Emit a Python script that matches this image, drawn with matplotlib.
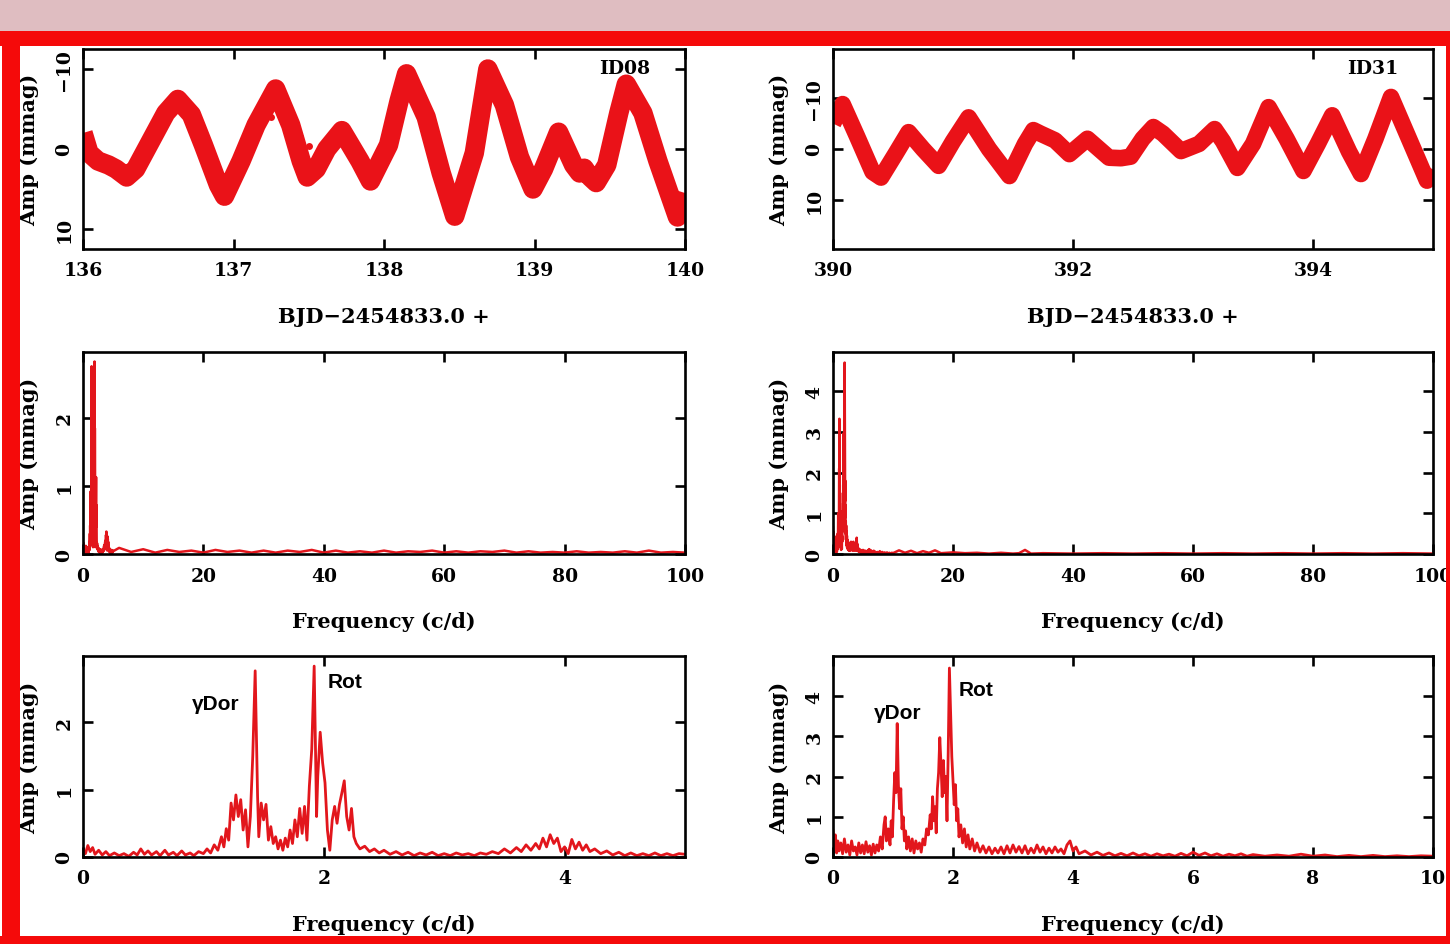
import matplotlib
matplotlib.use("Agg")
import matplotlib.pyplot as plt
from matplotlib.patches import Rectangle
import numpy as np

# ---------------- data ----------------
# Light curve ID08 (BJD-2454833.0 +, mmag)
lc08_t = [136.00, 136.04, 136.10, 136.17, 136.22, 136.29, 136.35, 136.45, 136.55, 136.63,
          136.72, 136.80, 136.90, 136.94, 137.05, 137.15, 137.28, 137.38, 137.45, 137.49,
          137.55, 137.62, 137.72, 137.84, 137.91, 138.03, 138.10, 138.15, 138.28, 138.38,
          138.47, 138.60, 138.69, 138.80, 138.90, 138.99, 139.06, 139.16, 139.26, 139.30,
          139.33, 139.37, 139.41, 139.48, 139.56, 139.61, 139.72, 139.82, 139.95, 140.00]
lc08_m = [-2.0, 0.5, 1.5, 2.0, 2.5, 3.5, 2.5, -1.0, -4.5, -6.2,
          -4.3, -0.5, 4.5, 5.9, 1.5, -3.0, -7.5, -3.0, 1.5, 3.5,
          2.5, 0.0, -2.3, 1.5, 4.0, -0.5, -6.0, -9.4, -4.0, 3.0,
          8.4, 0.5, -10.0, -5.5, 1.0, 5.0, 2.5, -2.1, 2.0, 3.0,
          2.4, 3.5, 4.2, 2.0, -4.5, -8.1, -4.5, 1.5, 8.5, 5.5]
lc08_out_t = [137.25, 137.44, 137.50]
lc08_out_m = [-4.0, -1.5, -0.4]

# Light curve ID31
lc31_t = [390.00, 390.08, 390.20, 390.33, 390.40, 390.52, 390.63, 390.75, 390.88, 391.00,
          391.13, 391.30, 391.47, 391.60, 391.67, 391.73, 391.85, 391.97, 392.12, 392.30,
          392.40, 392.48, 392.58, 392.67, 392.75, 392.90, 393.05, 393.18, 393.25, 393.37,
          393.50, 393.63, 393.78, 393.92, 394.04, 394.16, 394.30, 394.40, 394.52, 394.65,
          394.80, 394.95, 395.00]
lc31_m = [-5.0, -8.8, -2.5, 4.5, 5.6, 1.0, -3.3, 0.0, 3.3, -1.5,
          -6.2, 0.0, 5.3, -1.0, -3.7, -3.0, -1.7, 1.0, -2.0, 1.7,
          1.8, 1.5, -2.0, -4.3, -3.0, 0.4, -1.0, -3.9, -1.5, 3.7,
          -1.0, -8.2, -2.0, 4.3, -1.0, -6.6, 0.5, 4.9, -2.0, -10.2,
          -2.0, 6.2, 4.0]

# Amplitude spectrum ID08, 0-5 c/d
sp08_f = [0.00, 0.02, 0.04, 0.06, 0.08, 0.10, 0.13, 0.16, 0.19, 0.22, 0.26, 0.30, 0.34, 0.38,
          0.42, 0.45, 0.48, 0.51, 0.54, 0.57, 0.61, 0.64, 0.68, 0.71, 0.75, 0.78, 0.82, 0.85,
          0.89, 0.92, 0.96, 1.00, 1.03, 1.06, 1.09, 1.12, 1.15, 1.17, 1.19, 1.21, 1.23, 1.25,
          1.27, 1.29, 1.31, 1.33, 1.35, 1.37, 1.39, 1.41, 1.43, 1.45, 1.46, 1.48, 1.50, 1.52,
          1.54, 1.56, 1.58, 1.60, 1.62, 1.64, 1.66, 1.68, 1.70, 1.72, 1.74, 1.76, 1.78, 1.80,
          1.82, 1.84, 1.86, 1.88, 1.90, 1.92, 1.94, 1.95, 1.97, 1.99, 2.01, 2.03, 2.05, 2.07,
          2.09, 2.11, 2.13, 2.15, 2.17, 2.19, 2.21, 2.23, 2.25, 2.27, 2.30, 2.34, 2.38, 2.42,
          2.46, 2.50, 2.55, 2.60, 2.65, 2.70, 2.75, 2.80, 2.85, 2.90, 2.95, 3.00, 3.05, 3.10,
          3.15, 3.20, 3.25, 3.30, 3.35, 3.40, 3.45, 3.50, 3.55, 3.60, 3.64, 3.68, 3.72, 3.76,
          3.79, 3.82, 3.85, 3.88, 3.91, 3.94, 3.97, 4.00, 4.03, 4.06, 4.09, 4.12, 4.15, 4.18,
          4.21, 4.25, 4.30, 4.35, 4.40, 4.45, 4.50, 4.55, 4.60, 4.65, 4.70, 4.75, 4.80, 4.85,
          4.90, 4.95, 5.00]
sp08_a = [0.12, 0.05, 0.17, 0.08, 0.14, 0.04, 0.10, 0.03, 0.08, 0.02, 0.06, 0.02, 0.05, 0.01,
          0.07, 0.03, 0.12, 0.04, 0.09, 0.03, 0.08, 0.02, 0.10, 0.03, 0.07, 0.02, 0.09, 0.03,
          0.06, 0.02, 0.08, 0.05, 0.12, 0.06, 0.18, 0.10, 0.30, 0.15, 0.42, 0.25, 0.80, 0.55,
          0.92, 0.60, 0.85, 0.40, 0.70, 0.15, 0.60, 1.50, 2.76, 0.90, 0.30, 0.80, 0.55, 0.78,
          0.25, 0.45, 0.20, 0.30, 0.12, 0.25, 0.10, 0.28, 0.15, 0.40, 0.20, 0.55, 0.30, 0.72,
          0.35, 0.75, 0.25, 1.05, 1.60, 2.83, 0.60, 1.20, 1.85, 1.40, 1.10, 0.40, 0.10, 0.55,
          0.75, 0.50, 0.78, 0.95, 1.13, 0.60, 0.40, 0.72, 0.30, 0.20, 0.12, 0.16, 0.08, 0.12,
          0.06, 0.10, 0.04, 0.08, 0.03, 0.07, 0.02, 0.06, 0.03, 0.07, 0.02, 0.05, 0.02, 0.06,
          0.03, 0.05, 0.02, 0.06, 0.04, 0.08, 0.05, 0.12, 0.06, 0.14, 0.08, 0.18, 0.10, 0.20,
          0.12, 0.28, 0.15, 0.33, 0.20, 0.28, 0.08, 0.15, 0.05, 0.26, 0.12, 0.22, 0.10, 0.18,
          0.08, 0.12, 0.05, 0.09, 0.03, 0.07, 0.02, 0.06, 0.02, 0.05, 0.02, 0.06, 0.02, 0.05,
          0.02, 0.05, 0.04]
# ID08 spectrum tail, 6-100 c/d
tail08_f = [6, 8, 10, 12, 14, 16, 18, 20, 22, 24, 26, 28, 30, 32, 34, 36, 38, 40, 42, 44,
            46, 48, 50, 52, 54, 56, 58, 60, 62, 64, 66, 68, 70, 72, 74, 76, 78, 80, 82, 84,
            86, 88, 90, 92, 94, 96, 98, 100]
tail08_a = [0.09, 0.03, 0.07, 0.02, 0.06, 0.03, 0.05, 0.02, 0.06, 0.03, 0.05, 0.02, 0.05, 0.02,
            0.05, 0.03, 0.06, 0.02, 0.05, 0.02, 0.04, 0.02, 0.05, 0.02, 0.04, 0.03, 0.05, 0.02,
            0.04, 0.02, 0.04, 0.03, 0.05, 0.02, 0.04, 0.02, 0.03, 0.02, 0.04, 0.02, 0.03, 0.02,
            0.04, 0.02, 0.05, 0.02, 0.03, 0.02]

# Amplitude spectrum ID31, 0-10 c/d
sp31_f = [0.00, 0.02, 0.04, 0.06, 0.08, 0.10, 0.13, 0.16, 0.19, 0.22, 0.25, 0.28, 0.31, 0.34,
          0.37, 0.40, 0.43, 0.46, 0.49, 0.52, 0.55, 0.58, 0.61, 0.64, 0.67, 0.70, 0.73, 0.76,
          0.79, 0.82, 0.85, 0.87, 0.89, 0.92, 0.95, 0.97, 0.99, 1.01, 1.03, 1.05, 1.07, 1.09,
          1.11, 1.13, 1.15, 1.17, 1.19, 1.21, 1.23, 1.26, 1.29, 1.32, 1.35, 1.38, 1.41, 1.44,
          1.47, 1.50, 1.53, 1.56, 1.59, 1.62, 1.64, 1.66, 1.68, 1.70, 1.72, 1.74, 1.76, 1.78,
          1.80, 1.82, 1.84, 1.86, 1.88, 1.90, 1.92, 1.94, 1.96, 1.98, 2.00, 2.02, 2.04, 2.06,
          2.08, 2.10, 2.13, 2.16, 2.19, 2.22, 2.25, 2.28, 2.32, 2.36, 2.40, 2.45, 2.50, 2.55,
          2.60, 2.65, 2.70, 2.75, 2.80, 2.85, 2.90, 2.95, 3.00, 3.05, 3.10, 3.15, 3.20, 3.25,
          3.30, 3.35, 3.40, 3.45, 3.50, 3.55, 3.60, 3.65, 3.70, 3.75, 3.80, 3.85, 3.90, 3.95,
          4.00, 4.05, 4.10, 4.2, 4.3, 4.4, 4.5, 4.6, 4.7, 4.8, 4.9, 5.0, 5.1, 5.2, 5.3, 5.4,
          5.5, 5.6, 5.7, 5.8, 5.9, 6.0, 6.1, 6.2, 6.3, 6.4, 6.5, 6.6, 6.7, 6.8, 6.9, 7.0,
          7.2, 7.4, 7.6, 7.8, 8.0, 8.2, 8.4, 8.6, 8.8, 9.0, 9.2, 9.4, 9.6, 9.8, 10.0]
sp31_a = [0.65, 0.20, 0.55, 0.10, 0.40, 0.15, 0.35, 0.08, 0.45, 0.12, 0.30, 0.05, 0.40, 0.15,
          0.25, 0.05, 0.35, 0.10, 0.30, 0.08, 0.38, 0.12, 0.28, 0.05, 0.32, 0.10, 0.30, 0.15,
          0.50, 0.20, 0.80, 1.00, 0.40, 0.70, 0.30, 0.90, 0.50, 1.40, 2.10, 1.60, 3.32, 1.80,
          1.20, 1.70, 0.70, 1.00, 0.40, 0.65, 0.20, 0.50, 0.15, 0.45, 0.10, 0.40, 0.20, 0.35,
          0.12, 0.45, 0.30, 0.70, 0.55, 1.05, 0.70, 1.50, 0.90, 1.25, 0.60, 1.70, 2.10, 2.97,
          2.30, 1.50, 2.40, 1.60, 2.00, 0.90, 2.60, 4.70, 3.60, 2.50, 1.90, 1.30, 1.80, 0.90,
          1.20, 0.50, 0.80, 0.35, 0.70, 0.25, 0.55, 0.20, 0.45, 0.15, 0.35, 0.12, 0.28, 0.10,
          0.25, 0.08, 0.22, 0.10, 0.25, 0.08, 0.28, 0.10, 0.30, 0.12, 0.26, 0.10, 0.28, 0.08,
          0.22, 0.10, 0.30, 0.12, 0.25, 0.08, 0.22, 0.10, 0.25, 0.12, 0.20, 0.08, 0.30, 0.40,
          0.15, 0.25, 0.08, 0.15, 0.05, 0.12, 0.04, 0.10, 0.03, 0.09, 0.03, 0.10, 0.03, 0.08,
          0.02, 0.08, 0.03, 0.07, 0.02, 0.09, 0.03, 0.12, 0.04, 0.10, 0.03, 0.08, 0.02, 0.07,
          0.03, 0.08, 0.02, 0.06, 0.02, 0.05, 0.02, 0.07, 0.02, 0.05, 0.01, 0.04, 0.01, 0.04,
          0.01, 0.03, 0.01, 0.03, 0.02]
# ID31 spectrum tail, 11-100 c/d
tail31_f = [11, 12, 13, 14, 15, 16, 17, 18, 20, 22, 24, 26, 28, 30, 31, 32, 33, 35, 40, 45,
            50, 55, 60, 65, 70, 75, 80, 85, 90, 95, 100]
tail31_a = [0.09, 0.03, 0.08, 0.02, 0.07, 0.03, 0.09, 0.02, 0.04, 0.02, 0.03, 0.01, 0.03, 0.01,
            0.02, 0.10, 0.01, 0.02, 0.01, 0.02, 0.01, 0.02, 0.01, 0.02, 0.01, 0.02, 0.01, 0.02,
            0.01, 0.02, 0.01]

star_ids = ["ID08", "ID31"]
xlabel_time = "BJD\u22122454833.0 +"
xlabel_freq = "Frequency (c/d)"
ylabel_amp = "Amp (mmag)"
peak_labels = ["\u03b3Dor", "Rot"]
peak_pos08 = [(1.10, 2.27), (2.18, 2.60)]
peak_pos31 = [(1.08, 3.60), (2.38, 4.17)]

# ---------------- figure ----------------
W, H = 1450, 945
plt.rcParams["font.family"] = ["DejaVu Serif"]
plt.rcParams["font.weight"] = "bold"
plt.rcParams["axes.labelweight"] = "bold"
fig = plt.figure(figsize=(W / 100, H / 100), dpi=100)
fig.patch.set_facecolor("white")

RED = "#ea1218"
SPEC = "#e2161c"
LABEL_FS = 15


def px_axes(x0, y0, x1, y1):
    return fig.add_axes([x0 / W, 1 - y1 / H, (x1 - x0) / W, (y1 - y0) / H])


def style(ax, wpx, hpx):
    for s in ax.spines.values():
        s.set_linewidth(1.9)
        s.set_zorder(5)
    ax.tick_params(direction="in", length=7.5, width=1.9, top=True, right=True,
                   labelsize=13.5, pad=7)
    ax.tick_params(axis="x", pad=9)
    ax.tick_params(axis="y", labelrotation=90)
    for lab in ax.get_yticklabels():
        lab.set_va("center")
    ax.xaxis.set_label_coords(0.5, -67 / hpx)
    ax.yaxis.set_label_coords(-54 / wpx, 0.5)


axes = {}
axes["lc08"] = px_axes(83, 50, 685, 250)
axes["lc31"] = px_axes(833, 50, 1433, 250)
axes["sp08"] = px_axes(83, 353, 685, 555)
axes["sp31"] = px_axes(833, 353, 1433, 555)
axes["z08"] = px_axes(83, 657, 685, 858)
axes["z31"] = px_axes(833, 657, 1433, 858)

# light curves
ax = axes["lc08"]
ax.plot(lc08_t, lc08_m, color=RED, lw=14, solid_joinstyle="round", solid_capstyle="butt")
ax.plot(lc08_out_t, lc08_out_m, "o", color=RED, ms=5, mew=0)
ax.set_xlim(136, 140)
ax.set_ylim(12.5, -12.5)
ax.set_xticks([136, 137, 138, 139, 140])
ax.set_yticks([-10, 0, 10])
ax.text(0.9, 0.905, star_ids[0], transform=ax.transAxes, ha="center", va="center",
        fontsize=13.5)

ax = axes["lc31"]
ax.plot(lc31_t, lc31_m, color=RED, lw=12, solid_joinstyle="round", solid_capstyle="butt")
ax.set_xlim(390, 395)
ax.set_ylim(19.6, -19.6)
ax.set_xticks([390, 392, 394])
ax.set_yticks([-10, 0, 10])
ax.text(0.9, 0.905, star_ids[1], transform=ax.transAxes, ha="center", va="center",
        fontsize=13.5)

for k in ["lc08", "lc31"]:
    axes[k].set_xlabel(xlabel_time, fontsize=LABEL_FS, va="center")

# full spectra
ax = axes["sp08"]
ax.plot(sp08_f + tail08_f, sp08_a + tail08_a, color=SPEC, lw=1.8)
ax.set_xlim(0, 100)
ax.set_ylim(0, 2.97)
ax.set_xticks([0, 20, 40, 60, 80, 100])
ax.set_yticks([0, 1, 2])

ax = axes["sp31"]
ax.plot(sp31_f + tail31_f, sp31_a + tail31_a, color=SPEC, lw=1.8)
ax.set_xlim(0, 100)
ax.set_ylim(0, 4.96)
ax.set_xticks([0, 20, 40, 60, 80, 100])
ax.set_yticks([0, 1, 2, 3, 4])

# zoomed spectra
ax = axes["z08"]
ax.plot(sp08_f, sp08_a, color=SPEC, lw=2.0)
ax.set_xlim(0, 5)
ax.set_ylim(0, 2.98)
ax.set_xticks([0, 2, 4])
ax.set_yticks([0, 1, 2])
for lab, (fx, fy) in zip(peak_labels, peak_pos08):
    ax.text(fx, fy, lab, ha="center", va="center", fontsize=15,
            family="Liberation Sans", weight="bold")

ax = axes["z31"]
ax.plot(sp31_f, sp31_a, color=SPEC, lw=2.0)
ax.set_xlim(0, 10)
ax.set_ylim(0, 5.0)
ax.set_xticks([0, 2, 4, 6, 8, 10])
ax.set_yticks([0, 1, 2, 3, 4])
for lab, (fx, fy) in zip(peak_labels, peak_pos31):
    ax.text(fx, fy, lab, ha="center", va="center", fontsize=15,
            family="Liberation Sans", weight="bold")

for k in ["sp08", "sp31", "z08", "z31"]:
    axes[k].set_xlabel(xlabel_freq, fontsize=LABEL_FS, va="center")
for k in axes:
    axes[k].set_ylabel(ylabel_amp, fontsize=LABEL_FS, va="center")

style(axes["lc08"], 602, 200)
style(axes["sp08"], 602, 202)
style(axes["z08"], 602, 201)
style(axes["lc31"], 600, 200)
style(axes["sp31"], 600, 202)
style(axes["z31"], 600, 201)

# frame: pink band at top and red border
def frect(x0, y0, x1, y1, color):
    fig.add_artist(Rectangle((x0 / W, 1 - y1 / H), (x1 - x0) / W, (y1 - y0) / H,
                             transform=fig.transFigure, facecolor=color,
                             edgecolor="none", zorder=20))

frect(0, 0, W, 32, "#dfbdc1")
frect(0, 32, W, 47, "#f50a0a")
frect(2, 32, 20, H, "#f50a0a")
frect(0, 937, W, H, "#f50a0a")
frect(1446, 32, W, H, "#f50a0a")

fig.savefig("out.png", dpi=100)
